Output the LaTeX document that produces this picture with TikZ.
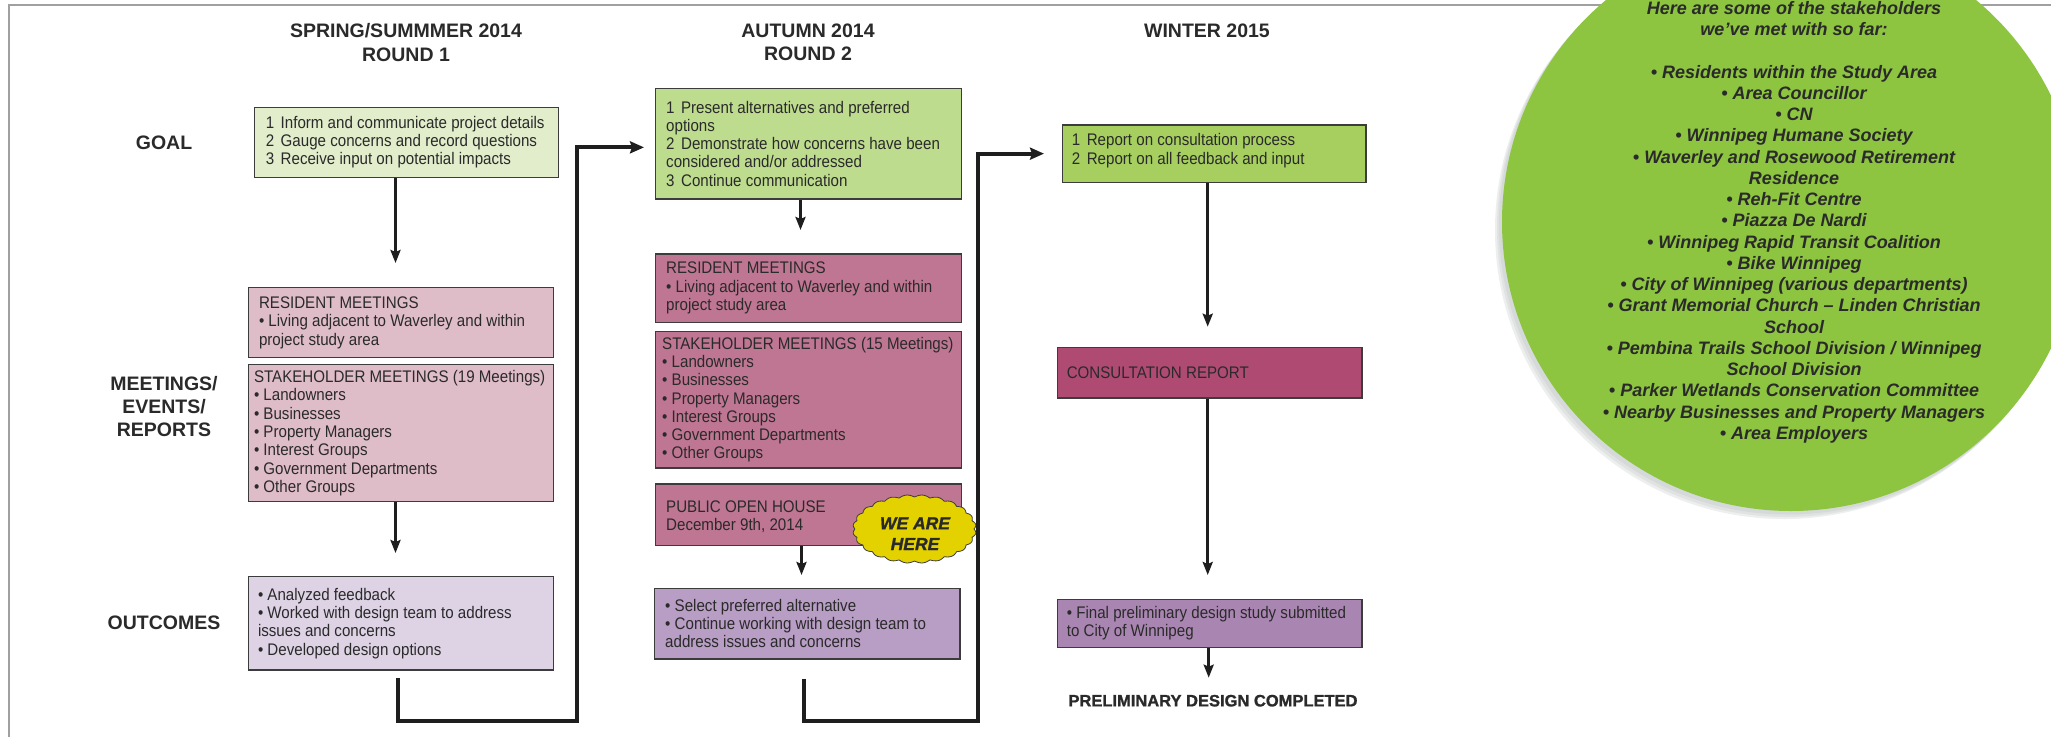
\documentclass[tikz,border=0pt]{standalone}
\usepackage{fontspec}
\setmainfont{Liberation Sans}
\newfontfamily\bodyf[FakeStretch=0.9]{Liberation Sans}
\newfontfamily\heavyf[FakeBold=1.2]{Liberation Sans}
\usetikzlibrary{arrows.meta}
\definecolor{cGa}{HTML}{E2EDCC}
\definecolor{cGb}{HTML}{BEDC8E}
\definecolor{cGc}{HTML}{A6CF5F}
\definecolor{cMa}{HTML}{DFBDC8}
\definecolor{cMb}{HTML}{BF7692}
\definecolor{cMc}{HTML}{AF4B73}
\definecolor{cOa}{HTML}{DED3E5}
\definecolor{cOb}{HTML}{B89DC5}
\definecolor{cOc}{HTML}{A986B1}
\definecolor{cCircle}{HTML}{8DC540}
\definecolor{cShadowA}{HTML}{EDEEEE}
\definecolor{cShadowB}{HTML}{E1E3E3}
\definecolor{cShadowC}{HTML}{D6D9D9}
\definecolor{cBadge}{HTML}{E3D100}
\definecolor{cBorder}{HTML}{3C3C3C}
\definecolor{cText}{HTML}{2A2A2A}
\definecolor{cFrame}{HTML}{A0A0A0}
\definecolor{cArrow}{HTML}{1E1E1E}
\begin{document}
\begin{tikzpicture}[x=1pt,y=-1pt,
  box/.style={draw=cBorder, line width=1.3pt, inner sep=0pt, anchor=north west},
  txt/.style={font=\bodyf\fontsize{16.8}{18.3}\selectfont, align=left, inner sep=0pt, text=cText, anchor=west},
  hdr/.style={font=\bfseries\fontsize{19.5}{23.3}\selectfont, align=center, inner sep=0pt, text=cText},
  arr/.style={draw=cArrow, line width=2.6pt, -{Stealth[length=13pt,width=10pt,inset=2pt]}},
  conn/.style={draw=cArrow, line width=3.8pt, -{Stealth[length=14pt,width=12pt,inset=2pt]}},
  stk/.style={font=\bfseries\itshape\fontsize{18}{21.25}\selectfont, align=center, inner sep=0pt, text=cText}
]
\clip (0,0) rectangle (2051,737);
\fill[white] (0,0) rectangle (2051,737);
% frame
\draw[cFrame, line width=2.5pt] (9,737) -- (9,5) -- (2051,5);
% stakeholder circle with soft shadow
\fill[cShadowA] (1784,230) circle[radius=289];
\fill[cShadowB] (1786,228) circle[radius=289];
\fill[cShadowC] (1788,225.5) circle[radius=289];
\fill[cCircle] (1791,222) circle[radius=289];
\node[stk, anchor=north] (stk) at (1794,1) {Here are some of the stakeholders\\we’ve met with so far:\\[21.25pt]
• Residents within the Study Area\\
• Area Councillor\\
• CN\\
• Winnipeg Humane Society\\
• Waverley and Rosewood Retirement\\
Residence\\
• Reh-Fit Centre\\
• Piazza De Nardi\\
• Winnipeg Rapid Transit Coalition\\
• Bike Winnipeg\\
• City of Winnipeg (various departments)\\
• Grant Memorial Church – Linden Christian\\
School\\
• Pembina Trails School Division / Winnipeg\\
School Division\\
• Parker Wetlands Conservation Committee\\
• Nearby Businesses and Property Managers\\
• Area Employers};
% headers
\node[hdr] (h1) at (406,42.4) {SPRING/SUMMMER 2014\\ROUND 1};
\node[hdr] (h2) at (808,42.4) {AUTUMN 2014\\ROUND 2};
\node[hdr] (h3) at (1207,30.7) {WINTER 2015};
% row labels
\node[hdr] (lgoal) at (164,143) {GOAL};
\node[hdr] (lmeet) at (164,406.6) {MEETINGS/\\EVENTS/\\REPORTS};
\node[hdr] (lout) at (164,623) {OUTCOMES};
% column 1
\node[box, fill=cGa, minimum width=304.4pt, minimum height=70pt] (g1) at (253.6,106.7) {};
\node[txt] (g1t) at ([xshift=12pt]g1.west) {1\hspace{6.5pt}Inform and communicate project details\\2\hspace{6.5pt}Gauge concerns and record questions\\3\hspace{6.5pt}Receive input on potential impacts};
\node[box, fill=cMa, minimum width=304.9pt, minimum height=70pt] (r1) at (247.8,287) {};
\node[txt] (r1t) at ([xshift=11pt]r1.west) {RESIDENT MEETINGS\\• Living adjacent to Waverley and within\\project study area};
\node[box, fill=cMa, minimum width=304.9pt, minimum height=137pt] (s1) at (247.8,364) {};
\node[txt] (s1t) at ([xshift=6pt]s1.west) {STAKEHOLDER MEETINGS (19 Meetings)\\• Landowners\\• Businesses\\• Property Managers\\• Interest Groups\\• Government Departments\\• Other Groups};
\node[box, fill=cOa, minimum width=304.9pt, minimum height=93.3pt] (o1) at (247.8,576) {};
\node[txt] (o1t) at ([xshift=10pt]o1.west) {• Analyzed feedback\\• Worked with design team to address\\issues and concerns\\• Developed design options};
% column 2
\node[box, fill=cGb, minimum width=305.7pt, minimum height=110.6pt] (g2) at (655,87.7) {};
\node[txt] (g2t) at ([xshift=11pt]g2.west) {1\hspace{6.5pt}Present alternatives and preferred\\options\\2\hspace{6.5pt}Demonstrate how concerns have been\\considered and/or addressed\\3\hspace{6.5pt}Continue communication};
\node[box, fill=cMb, minimum width=305.7pt, minimum height=68.4pt] (r2) at (655,253.3) {};
\node[txt] (r2t) at ([xshift=11pt]r2.west) {RESIDENT MEETINGS\\• Living adjacent to Waverley and within\\project study area};
\node[box, fill=cMb, minimum width=305.7pt, minimum height=136.6pt] (s2) at (655,330.7) {};
\node[txt] (s2t) at ([xshift=7pt]s2.west) {STAKEHOLDER MEETINGS (15 Meetings)\\• Landowners\\• Businesses\\• Property Managers\\• Interest Groups\\• Government Departments\\• Other Groups};
\node[box, fill=cMb, minimum width=305.7pt, minimum height=61.7pt] (p2) at (655,483.3) {};
\node[txt] (p2t) at ([xshift=11pt, yshift=-2pt]p2.west) {PUBLIC OPEN HOUSE\\December 9th, 2014};
\node[box, fill=cOb, minimum width=305.2pt, minimum height=70.6pt] (o2) at (654,587.7) {};
\node[txt] (o2t) at ([xshift=11pt]o2.west) {• Select preferred alternative\\• Continue working with design team to\\address issues and concerns};
% column 3
\node[box, fill=cGc, minimum width=303.6pt, minimum height=57.4pt] (g3) at (1061.7,124.3) {};
\node[txt] (g3t) at ([xshift=10pt, yshift=3pt]g3.west) {1\hspace{6.5pt}Report on consultation process\\2\hspace{6.5pt}Report on all feedback and input};
\node[box, fill=cMc, minimum width=304.6pt, minimum height=50.6pt] (c3) at (1056.6,346.7) {};
\node[txt] (c3t) at ([xshift=10pt]c3.west) {CONSULTATION REPORT};
\node[box, fill=cOc, minimum width=304.6pt, minimum height=48pt] (f3) at (1056.6,598.7) {};
\node[txt] (f3t) at ([xshift=10pt]f3.west) {• Final preliminary design study submitted\\to City of Winnipeg};
\node[font=\heavyf\bfseries\fontsize{16.5}{18}\selectfont, inner sep=0pt, text=cText] (done) at (1213,700.7) {PRELIMINARY DESIGN COMPLETED};
% badge
\draw[fill=cBadge, draw=cBorder, line width=0.8pt] plot[domain=0:360, samples=480] ({914.5+(59.5+2.2*abs(sin(12*\x)))*cos(\x)}, {529+(32+2.2*abs(sin(12*\x)))*sin(\x)}) -- cycle;
\node[font=\heavyf\bfseries\itshape\fontsize{17.5}{20.7}\selectfont, align=center, inner sep=0pt, text=cText] (here) at (915,533.7) {WE ARE\\HERE};
% arrow x positions
\coordinate (ax1) at (395.5,0);
\coordinate (ax2) at (800.5,0);
\coordinate (ax2b) at (801.5,0);
\coordinate (ax3) at (1207.7,0);
\coordinate (ax3b) at (1208.7,0);
\draw[arr, shorten >=24pt] (g1.south -| ax1) -- (r1.north -| ax1);
\draw[arr, shorten >=23pt] (s1.south -| ax1) -- (o1.north -| ax1);
\draw[arr, shorten >=23.3pt] (g2.south -| ax2) -- (r2.north -| ax2);
\draw[arr, shorten >=12.7pt] (p2.south -| ax2b) -- (o2.north -| ax2b);
\draw[arr, shorten >=20pt] (g3.south -| ax3) -- (c3.north -| ax3);
\draw[arr, shorten >=23.7pt] (c3.south -| ax3) -- (f3.north -| ax3);
\draw[arr, shorten >=17pt] (f3.south -| ax3b) -- (done.north -| ax3b);
% connectors between rounds
\coordinate (k1) at (576.8,720.7);
\coordinate (k2) at (978,720.7);
\draw[conn, shorten >=11pt] ([xshift=-3pt, yshift=-7.4pt]o1.south) |- (k1) |- ([yshift=-3.7pt]g2.west);
\draw[conn, shorten >=17.7pt] ([xshift=-3.6pt, yshift=-19pt]o2.south) |- (k2) |- (g3.west);
\end{tikzpicture}
\end{document}
